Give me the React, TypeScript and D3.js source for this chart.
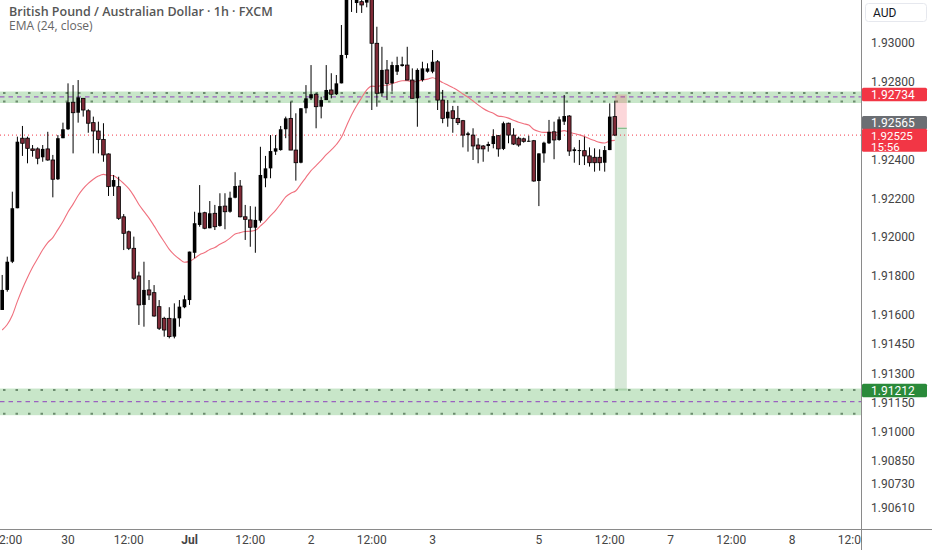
import React from "react";
import * as d3 from "d3";

const W = 932;
const H = 550;

const openP = [1.91626,1.91729,1.91874,1.92149,1.92509,1.92509,1.92454,1.92454,1.92411,1.92454,1.92397,1.92298,1.92509,1.92555,1.92694,1.92640,1.92714,1.92650,1.92589,1.92546,1.92503,1.92428,1.92260,1.92260,1.92105,1.92028,1.91943,1.91801,1.91652,1.91729,1.91715,1.91643,1.91583,1.91583,1.91489,1.91583,1.91640,1.91677,1.91920,1.92063,1.92126,1.92046,1.92123,1.92058,1.92160,1.92131,1.92203,1.92263,1.92105,1.92089,1.92049,1.92085,1.92303,1.92354,1.92440,1.92448,1.92555,1.92611,1.92448,1.92383,1.92663,1.92714,1.92735,1.92671,1.92705,1.92757,1.92735,1.92791,1.92937,1.93245,1.93204,1.93211,1.93206,1.93230,1.92997,1.92740,1.92860,1.92791,1.92851,1.92880,1.92885,1.92808,1.92714,1.92808,1.92851,1.92851,1.92902,1.92705,1.92611,1.92650,1.92611,1.92599,1.92525,1.92525,1.92474,1.92469,1.92469,1.92479,1.92522,1.92454,1.92586,1.92525,1.92509,1.92506,1.92495,1.92496,1.92289,1.92431,1.92483,1.92542,1.92500,1.92594,1.92623,1.92443,1.92445,1.92445,1.92418,1.92411,1.92411,1.92383,1.92448,1.92620];
const highP = [1.91806,1.91900,1.92234,1.92517,1.92572,1.92517,1.92474,1.92462,1.92474,1.92542,1.92423,1.92525,1.92589,1.92791,1.92782,1.92808,1.92714,1.92658,1.92620,1.92594,1.92586,1.92431,1.92320,1.92311,1.92119,1.92034,1.92003,1.91823,1.91874,1.91780,1.91754,1.91677,1.91591,1.91640,1.91660,1.91677,1.91701,1.91926,1.92131,1.92268,1.92131,1.92186,1.92166,1.92226,1.92226,1.92234,1.92334,1.92294,1.92166,1.92160,1.92157,1.92465,1.92418,1.92525,1.92525,1.92572,1.92620,1.92697,1.92637,1.92663,1.92782,1.92885,1.92740,1.92722,1.92885,1.92843,1.92834,1.93091,1.93297,1.93322,1.93271,1.93261,1.93261,1.93261,1.93082,1.92979,1.92911,1.92902,1.92928,1.92928,1.92979,1.92868,1.92868,1.92902,1.92894,1.92962,1.92911,1.92757,1.92705,1.92675,1.92675,1.92603,1.92542,1.92560,1.92509,1.92474,1.92491,1.92555,1.92525,1.92594,1.92589,1.92560,1.92517,1.92512,1.92522,1.92500,1.92431,1.92491,1.92603,1.92594,1.92620,1.92731,1.92628,1.92462,1.92500,1.92517,1.92462,1.92457,1.92452,1.92469,1.92688,1.92702];
const lowP = [1.91626,1.91720,1.91867,1.92149,1.92418,1.92380,1.92414,1.92375,1.92388,1.92393,1.92205,1.92294,1.92509,1.92551,1.92431,1.92589,1.92620,1.92537,1.92431,1.92431,1.92388,1.92212,1.92212,1.92089,1.91934,1.91934,1.91780,1.91549,1.91540,1.91677,1.91591,1.91523,1.91489,1.91480,1.91480,1.91540,1.91635,1.91652,1.91892,1.92054,1.92041,1.92046,1.92037,1.92054,1.92041,1.92126,1.92200,1.92102,1.91986,1.91951,1.91920,1.92075,1.92257,1.92303,1.92423,1.92445,1.92509,1.92448,1.92291,1.92380,1.92637,1.92705,1.92560,1.92611,1.92705,1.92714,1.92731,1.92791,1.92920,1.93158,1.93153,1.93153,1.93182,1.92654,1.92671,1.92722,1.92705,1.92748,1.92834,1.92877,1.92808,1.92714,1.92568,1.92800,1.92846,1.92843,1.92654,1.92586,1.92568,1.92537,1.92577,1.92462,1.92440,1.92397,1.92380,1.92388,1.92440,1.92457,1.92414,1.92448,1.92483,1.92474,1.92465,1.92486,1.92491,1.92285,1.92160,1.92383,1.92479,1.92401,1.92496,1.92577,1.92418,1.92383,1.92371,1.92371,1.92363,1.92337,1.92342,1.92337,1.92448,1.92520];
const closeP = [1.91729,1.91874,1.92149,1.92491,1.92483,1.92457,1.92446,1.92406,1.92454,1.92397,1.92298,1.92509,1.92555,1.92694,1.92640,1.92719,1.92654,1.92586,1.92546,1.92503,1.92423,1.92260,1.92294,1.92097,1.92020,1.91943,1.91789,1.91652,1.91729,1.91703,1.91595,1.91532,1.91523,1.91489,1.91583,1.91643,1.91681,1.91926,1.92072,1.92126,1.92046,1.92123,1.92054,1.92160,1.92131,1.92203,1.92263,1.92105,1.92092,1.92051,1.92089,1.92320,1.92354,1.92443,1.92457,1.92555,1.92611,1.92448,1.92383,1.92663,1.92714,1.92735,1.92671,1.92705,1.92757,1.92735,1.92791,1.92937,1.93245,1.93281,1.93220,1.93194,1.93220,1.92997,1.92740,1.92860,1.92791,1.92885,1.92885,1.92889,1.92808,1.92714,1.92860,1.92868,1.92868,1.92902,1.92705,1.92611,1.92645,1.92611,1.92589,1.92525,1.92534,1.92469,1.92454,1.92454,1.92479,1.92520,1.92454,1.92586,1.92525,1.92479,1.92474,1.92493,1.92496,1.92289,1.92431,1.92486,1.92542,1.92500,1.92606,1.92623,1.92443,1.92452,1.92448,1.92418,1.92383,1.92383,1.92383,1.92448,1.92620,1.92525];

const emaLength = 24;
const emaSeed = 1.91523;

const priceTicks = [1.93, 1.928, 1.924, 1.922, 1.92, 1.918, 1.916, 1.9145, 1.913, 1.9115, 1.91, 1.9085, 1.9073, 1.9061];
const timeTickIdx = [1, 13, 25, 37, 49, 61, 73, 85, 106, 120, 132, 144, 156, 168];
const timeTickLabels = ["12:00", "30", "12:00", "Jul", "12:00", "2", "12:00", "3", "5", "12:00", "7", "12:00", "8", "12:00"];

const upperZone = [1.9269, 1.92749];
const upperZoneMid = 1.92721;
const lowerZone = [1.91085, 1.91222];
const lowerZoneMid = 1.91155;

const stopPrice = 1.92734;
const entryPrice = 1.92565;
const targetPrice = 1.91212;
const lastPrice = 1.92525;
const countdown = "15:56";

const title = "British Pound / Australian Dollar · 1h · FXCM";
const emaTitle = "EMA (24, close)";
const currency = "AUD";

const AXIS_X = 861.5;
const AXIS_Y = 529.5;

export default function App() {
  const x = d3.scaleLinear().domain([0, 1]).range([2.2, 2.2 + 5.063]);
  const y = d3.scaleLinear().domain([1.9061, 1.93]).range([507.6, 42.7]);

  const ema: number[] = [];
  closeP.forEach((c, i) => {
    if (i === 0) ema.push(emaSeed);
    else ema.push(ema[i - 1] + (2 / (emaLength + 1)) * (c - ema[i - 1]));
  });
  const emaLine = d3
    .line<number>()
    .x((_, i) => x(i))
    .y((d) => y(d))
    .curve(d3.curveMonotoneX)(ema) as string;

  const bodyW = 3.6;
  const fmt = d3.format(".5f");
  const axisFont = "Roboto, 'Liberation Sans', sans-serif";

  const zone = (z: number[], mid: number, key: string) => {
    const top = y(z[1]);
    const bot = y(z[0]);
    return (
      <g key={key}>
        <rect x={0} y={top} width={AXIS_X} height={bot - top} fill="rgb(200,230,201)" />
        <line x1={3} x2={AXIS_X} y1={top + 1.5} y2={top + 1.5} stroke="#6c8c6f" strokeWidth={2} strokeDasharray="2.5 10" />
        <line x1={3} x2={AXIS_X} y1={bot - 1.5} y2={bot - 1.5} stroke="#6c8c6f" strokeWidth={2} strokeDasharray="2.5 10" />
        <line x1={0} x2={AXIS_X} y1={y(mid)} y2={y(mid)} stroke="#9a62c0" strokeWidth={1.2} strokeDasharray="4.5 4" />
      </g>
    );
  };

  const lastX = x(closeP.length - 1);
  const posW = 12;

  const label = (price: number, fill: string, key: string, yOff = 0, extra?: string) => {
    const cy = y(price) + yOff;
    const h = extra ? 23 : 13.5;
    const fs = extra ? 11.5 : 12;
    return (
      <g key={key}>
        <rect x={AXIS_X + 0.5} y={cy - 6.75} width={65} height={h} fill={fill} rx={1.5} />
        <text x={871} y={cy} dy="0.35em" fill="#fff" fontSize={fs} fontFamily={axisFont}>
          {fmt(price)}
        </text>
        {extra ? (
          <text x={871} y={cy + 11} dy="0.35em" fill="#fff" fontSize={fs} fontFamily={axisFont}>
            {extra}
          </text>
        ) : null}
      </g>
    );
  };

  return (
    <div style={{ position: "absolute", left: 0, top: 0, width: W, height: H, background: "#fff" }}>
      <svg width={W} height={H} viewBox={`0 0 ${W} ${H}`} style={{ display: "block" }}>
        <defs>
          <clipPath id="plot">
            <rect x={0} y={0} width={AXIS_X} height={AXIS_Y} />
          </clipPath>
          <clipPath id="timeAxis">
            <rect x={0} y={AXIS_Y} width={AXIS_X} height={H - AXIS_Y} />
          </clipPath>
        </defs>
        <rect x={0} y={0} width={W} height={H} fill="#fff" />

        <g clipPath="url(#plot)">
          {zone(upperZone, upperZoneMid, "uz")}
          {zone(lowerZone, lowerZoneMid, "lz")}

          <rect x={lastX} y={y(stopPrice)} width={posW} height={y(entryPrice) - y(stopPrice)} fill="rgba(242,54,69,0.2)" />
          <rect x={lastX} y={y(entryPrice)} width={posW} height={y(targetPrice) - y(entryPrice)} fill="rgba(56,142,60,0.2)" />
          <line x1={lastX + 3} x2={lastX + posW} y1={y(entryPrice) + 1} y2={y(entryPrice) + 1} stroke="rgba(56,142,60,0.6)" strokeWidth={1} />

          <line x1={0} x2={AXIS_X} y1={y(lastPrice)} y2={y(lastPrice)} stroke="#f23645" strokeWidth={1} strokeDasharray="1 3" />

          <path d={emaLine} fill="none" stroke="#f0707e" strokeWidth={1.1} />

          {closeP.map((c, i) => {
            const o = openP[i];
            const up = c >= o;
            const cx = x(i);
            const top = y(Math.max(o, c));
            const bh = Math.max(1, Math.abs(y(o) - y(c)));
            return (
              <g key={i}>
                <line x1={cx} x2={cx} y1={y(highP[i])} y2={y(lowP[i])} stroke="#000" strokeWidth={1} />
                <rect
                  x={cx - bodyW / 2}
                  y={top}
                  width={bodyW}
                  height={bh}
                  fill={up ? "#000" : "#7f2a37"}
                  stroke="#000"
                  strokeWidth={up ? 0 : 0.8}
                />
              </g>
            );
          })}
        </g>

        <text x={9} y={16} fontSize={12.5} fontWeight={600} fill="#555" fontFamily="'Open Sans', sans-serif">
          {title}
        </text>
        <text x={9} y={30} fontSize={12} fill="#666" fontFamily="'Open Sans', sans-serif">
          {emaTitle}
        </text>

        <line x1={AXIS_X} x2={AXIS_X} y1={0} y2={H} stroke="#8a8a8a" strokeWidth={1} />
        <line x1={0} x2={W} y1={AXIS_Y} y2={AXIS_Y} stroke="#8a8a8a" strokeWidth={1} />

        {priceTicks.map((p) => (
          <text key={p} x={871} y={y(p)} dy="0.35em" fontSize={12} fill="#444" fontFamily={axisFont}>
            {fmt(p)}
          </text>
        ))}

        <g clipPath="url(#timeAxis)">
          {timeTickIdx.map((ti, k) => (
            <text
              key={ti}
              x={x(ti)}
              y={540}
              dy="0.35em"
              textAnchor="middle"
              fontSize={12}
              fontWeight={timeTickLabels[k] === "Jul" ? 700 : 400}
              fill="#444"
              fontFamily={axisFont}
            >
              {timeTickLabels[k]}
            </text>
          ))}
        </g>

        {label(stopPrice, "#f23645", "stop")}
        {label(entryPrice, "#6b6e73", "entry", -4.5)}
        {label(lastPrice, "#f23645", "last", 0.5, countdown)}
        {label(targetPrice, "#2a8a3a", "target")}

        <rect x={865.5} y={3.5} width={61} height={18} fill="#fff" stroke="#e6e8ee" rx={3} />
        <text x={873} y={12.5} dy="0.35em" fontSize={12} fill="#131722" fontFamily={axisFont}>
          {currency}
        </text>
      </svg>
    </div>
  );
}
